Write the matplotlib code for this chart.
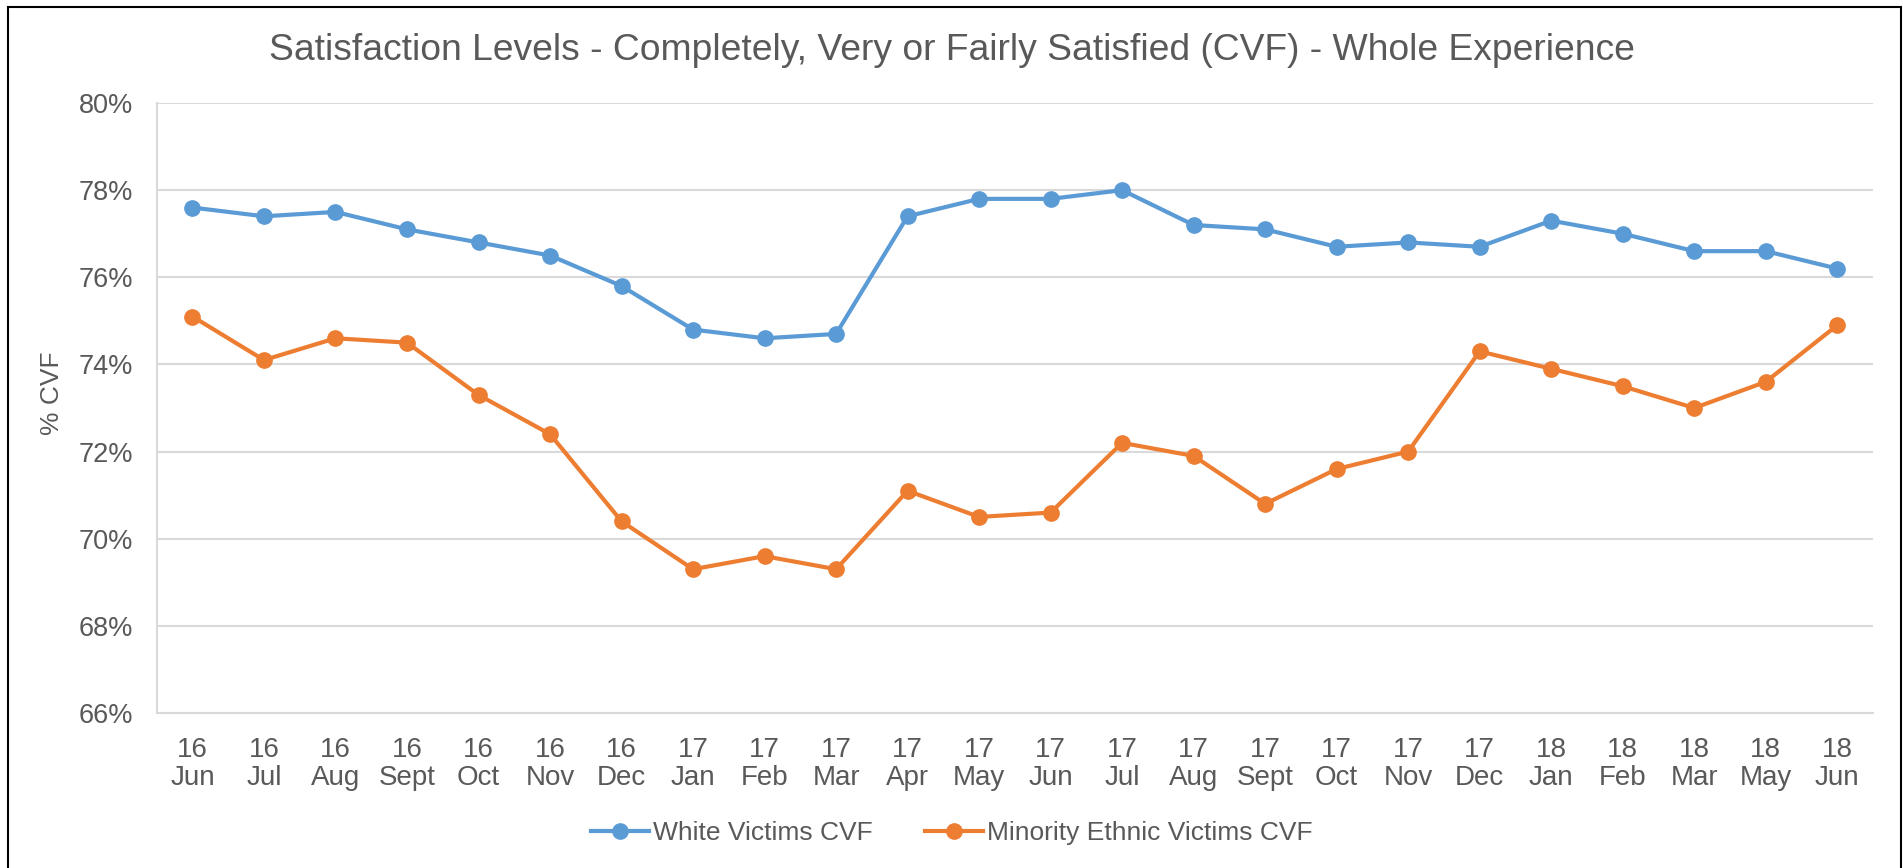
import matplotlib
matplotlib.use("Agg")
import matplotlib.pyplot as plt
from matplotlib.patches import Rectangle

plt.rcParams['font.family'] = ['Liberation Sans', 'DejaVu Sans']

years = ["16", "16", "16", "16", "16", "16", "16", "17", "17", "17", "17", "17",
         "17", "17", "17", "17", "17", "17", "17", "18", "18", "18", "18", "18"]
months = ["Jun", "Jul", "Aug", "Sept", "Oct", "Nov", "Dec", "Jan", "Feb", "Mar", "Apr", "May",
          "Jun", "Jul", "Aug", "Sept", "Oct", "Nov", "Dec", "Jan", "Feb", "Mar", "May", "Jun"]
white = [77.6, 77.4, 77.5, 77.1, 76.8, 76.5, 75.8, 74.8, 74.6, 74.7, 77.4, 77.8,
         77.8, 78.0, 77.2, 77.1, 76.7, 76.8, 76.7, 77.3, 77.0, 76.6, 76.6, 76.2]
minority = [75.1, 74.1, 74.6, 74.5, 73.3, 72.4, 70.4, 69.3, 69.6, 69.3, 71.1, 70.5,
            70.6, 72.2, 71.9, 70.8, 71.6, 72.0, 74.3, 73.9, 73.5, 73.0, 73.6, 74.9]
yticks = [66, 68, 70, 72, 74, 76, 78, 80]

BLUE = "#5B9BD5"
ORANGE = "#ED7D31"
TEXT = "#595959"
GRID = "#D9D9D9"

W, H = 1903, 868
fig = plt.figure(figsize=(W / 100, H / 100), dpi=100)
ax = fig.add_axes([156.7 / W, 1 - 713 / H, (1873 - 156.7) / W, (713 - 103) / H])

x = list(range(len(months)))
ax.plot(x, white, color=BLUE, lw=3.0, marker='o', ms=11, label="White Victims CVF", zorder=3)
ax.plot(x, minority, color=ORANGE, lw=3.0, marker='o', ms=11, label="Minority Ethnic Victims CVF", zorder=3)

ax.set_xlim(-0.5, len(months) - 0.5)
ax.set_ylim(66, 80)
ax.set_yticks(yticks)
ax.set_yticklabels([f"{v}%" for v in yticks])
ax.set_xticks(x)
ax.set_xticklabels([f"{y}\n{m}" for y, m in zip(years, months)], linespacing=1.13)

ax.grid(axis='y', color=GRID, lw=1.5)
ax.set_axisbelow(True)
for s in ['top', 'right']:
    ax.spines[s].set_visible(False)
for s in ['left', 'bottom']:
    ax.spines[s].set_color(GRID)
    ax.spines[s].set_linewidth(1.5)

ax.tick_params(axis='y', length=0, pad=17, labelsize=19.5, labelcolor=TEXT)
ax.tick_params(axis='x', length=0, pad=17, labelsize=20, labelcolor=TEXT)

ax.set_ylabel("% CVF", fontsize=19, color=TEXT)
ax.yaxis.set_label_coords(-(156.7 - 64) / (1873 - 156.7), (713 - 393) / (713 - 103))

fig.text(0.5, 1 - 50 / H, "Satisfaction Levels - Completely, Very or Fairly Satisfied (CVF) - Whole Experience",
         ha='center', va='center', fontsize=26.8, color=TEXT)

leg = fig.legend(loc='center', bbox_to_anchor=(0.5, 1 - 833 / H), ncol=2, frameon=False,
                 fontsize=19, labelcolor=TEXT, handlelength=2.2, handletextpad=0.15,
                 columnspacing=2.0)

fig.patches.append(Rectangle((7.5, -50), 1901 - 7.5, H - 6.5 + 50, transform=None, fill=False,
                             edgecolor='black', lw=1.5, figure=fig))

fig.savefig("out.png", dpi=100, facecolor='white')
